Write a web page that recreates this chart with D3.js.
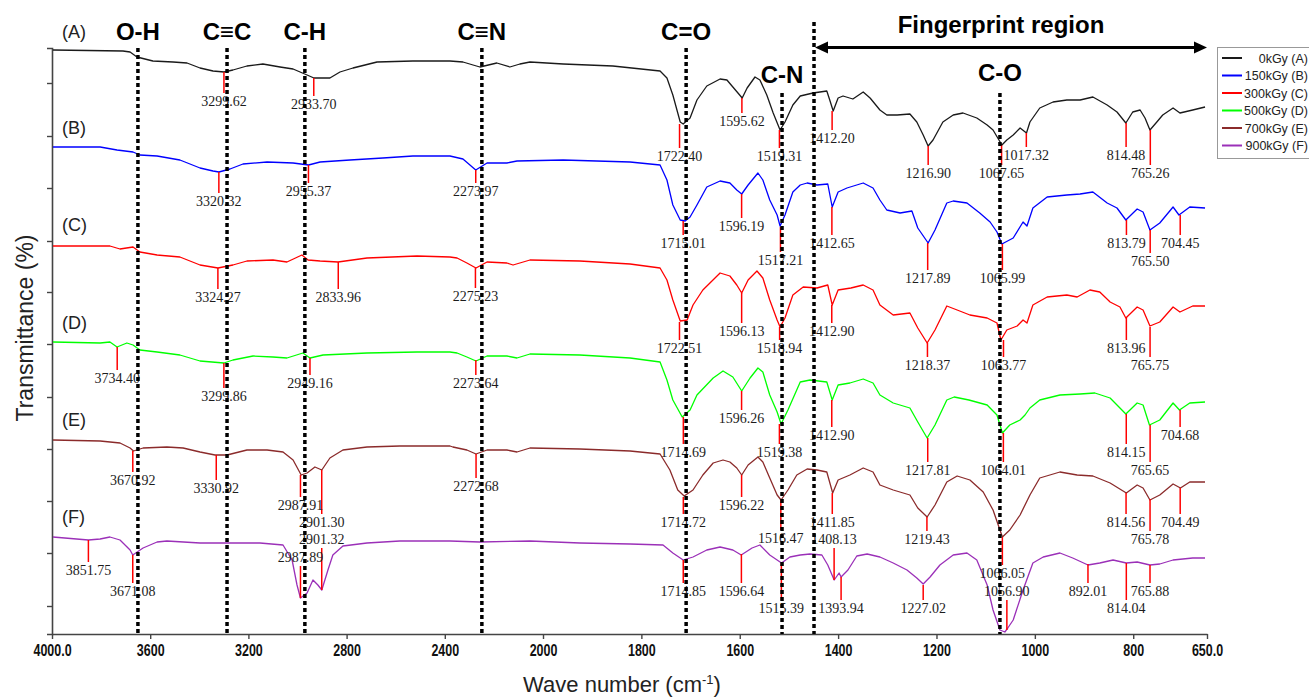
<!DOCTYPE html>
<html><head><meta charset="utf-8">
<script src="https://cdn.jsdelivr.net/npm/d3@7"></script>
<style>
html,body{margin:0;padding:0;background:#fff;}
svg{display:block;}
</style></head>
<body>
<svg id="chart" width="1309" height="699"></svg>
<script>
// ---------------- DATA ----------------
const xTicks = [4000,3600,3200,2800,2400,2000,1800,1600,1400,1200,1000,800,650];
const xTickLabels = ["4000.0","3600","3200","2800","2400","2000","1800","1600","1400","1200","1000","800","650.0"];
const yTicks = [28,81,133,185,237,290,342,393,446,498,551];

const seriesNames = ["0kGy (A)","150kGy (B)","300kGy (C)","500kGy (D)","700kGy (E)","900kGy (F)"];
const seriesLetters = ["(A)","(B)","(C)","(D)","(E)","(F)"];

// spectra: [wavenumber (cm-1), transmittance (a.u., offset per sample)]
const specA = [[3996,584],[3711,583],[3682,582],[3654,577],[3589,573],[3507,572],[3450,571],[3397,566],[3344,563],[3299,562],[3263,564],[3206,568],[3141,570],[3071,567],[3018,565],[2961,559],[2933,556],[2868,556],[2827,562],[2774,566],[2676,572],[2530,573],[2379,573],[2326,572],[2285,569],[2257,567],[2188,571],[2135,567],[2094,570],[2053,572],[1959,570],[1858,568],[1762,563],[1748,556],[1736,539],[1721,512],[1715,510],[1701,516],[1687,534],[1667,548],[1640,555],[1626,554],[1614,547],[1595,536],[1585,546],[1569,557],[1559,554],[1545,539],[1532,521],[1518,504],[1508,512],[1492,529],[1477,538],[1451,541],[1423,543],[1417,534],[1410,523],[1400,536],[1390,538],[1370,535],[1349,542],[1335,536],[1315,524],[1301,519],[1280,519],[1254,520],[1240,512],[1227,499],[1217,488],[1207,494],[1187,512],[1166,519],[1146,521],[1118,516],[1097,509],[1085,504],[1067,489],[1057,494],[1044,499],[1030,506],[1017,501],[1010,512],[990,526],[963,532],[935,534],[908,534],[882,537],[853,529],[833,522],[815,511],[801,522],[786,524],[776,516],[766,504],[752,512],[740,519],[719,526],[705,521],[679,524],[654,527]];
const specB = [[3996,487],[3804,487],[3735,484],[3670,482],[3642,479],[3572,478],[3479,474],[3397,466],[3344,463],[3320,462],[3275,465],[3222,470],[3124,472],[3018,471],[2955,469],[2908,472],[2786,474],[2652,476],[2530,478],[2379,478],[2326,475],[2274,464],[2228,471],[2147,471],[2106,473],[1959,474],[1823,472],[1762,469],[1748,454],[1736,429],[1721,414],[1711,413],[1701,417],[1687,429],[1667,447],[1640,453],[1620,451],[1606,444],[1596,440],[1583,449],[1563,461],[1553,454],[1539,434],[1524,419],[1518,408],[1508,419],[1492,442],[1477,449],[1463,451],[1443,449],[1421,450],[1412,427],[1400,442],[1382,446],[1349,451],[1329,446],[1315,434],[1301,424],[1274,421],[1250,423],[1238,406],[1217,391],[1203,404],[1179,431],[1166,433],[1138,431],[1112,421],[1091,412],[1077,402],[1067,390],[1044,396],[1024,412],[1016,408],[1004,426],[975,437],[935,439],[908,440],[882,442],[853,431],[833,426],[815,414],[792,425],[780,422],[766,404],[746,411],[719,427],[707,419],[685,427],[654,426]];
const specC = [[3996,388],[3764,388],[3723,385],[3670,387],[3642,382],[3572,379],[3479,377],[3397,369],[3324,366],[3263,369],[3206,373],[3100,374],[3043,372],[2982,379],[2957,374],[2908,373],[2835,372],[2717,376],[2513,378],[2379,377],[2350,376],[2310,371],[2273,366],[2228,372],[2147,371],[2122,369],[2053,374],[1925,373],[1823,370],[1762,366],[1748,354],[1736,334],[1721,313],[1707,314],[1695,329],[1675,344],[1640,361],[1620,358],[1606,349],[1596,341],[1583,354],[1565,363],[1553,356],[1539,334],[1524,314],[1518,307],[1508,316],[1492,339],[1471,347],[1443,346],[1421,349],[1412,329],[1400,344],[1374,346],[1349,349],[1329,344],[1315,329],[1288,319],[1254,321],[1238,306],[1219,291],[1203,304],[1179,328],[1158,324],[1132,319],[1097,316],[1077,311],[1069,294],[1057,304],[1036,308],[1024,314],[1016,311],[1004,329],[975,337],[935,339],[914,337],[888,344],[868,342],[847,332],[827,327],[815,316],[792,327],[780,324],[766,308],[746,312],[719,327],[705,322],[679,328],[654,328]];
const specD = [[3996,292],[3804,291],[3764,292],[3735,287],[3695,291],[3670,289],[3642,284],[3572,282],[3479,279],[3397,273],[3300,271],[3263,274],[3181,278],[3100,277],[3043,276],[2978,281],[2949,276],[2896,279],[2717,281],[2513,282],[2379,282],[2350,281],[2310,277],[2273,273],[2228,278],[2147,278],[2106,276],[2053,280],[1925,279],[1823,276],[1762,272],[1748,254],[1736,234],[1717,217],[1701,224],[1687,239],[1654,256],[1634,263],[1614,257],[1596,243],[1579,256],[1563,266],[1553,262],[1539,239],[1524,222],[1516,210],[1502,224],[1477,252],[1457,254],[1423,252],[1412,234],[1400,249],[1376,251],[1349,255],[1329,251],[1315,239],[1288,231],[1254,226],[1238,212],[1219,196],[1203,209],[1179,234],[1164,237],[1134,234],[1097,229],[1077,219],[1066,201],[1051,209],[1030,214],[1020,219],[1010,226],[990,234],[949,239],[908,240],[878,241],[847,236],[815,220],[792,231],[780,229],[767,209],[746,214],[719,231],[706,224],[685,231],[654,232]];
const specE = [[3996,194],[3804,193],[3723,191],[3682,186],[3668,183],[3629,186],[3532,187],[3466,186],[3397,182],[3336,179],[3287,179],[3206,184],[3124,184],[3059,182],[3018,174],[2985,159],[2961,161],[2929,167],[2901,164],[2868,176],[2815,184],[2717,187],[2583,188],[2379,188],[2367,187],[2310,184],[2273,180],[2228,184],[2147,184],[2106,182],[2053,186],[1925,185],[1823,183],[1762,180],[1742,164],[1726,144],[1713,138],[1695,144],[1675,159],[1654,171],[1634,174],[1620,172],[1606,166],[1596,159],[1583,169],[1563,177],[1553,172],[1539,156],[1524,139],[1516,134],[1502,144],[1484,159],[1463,165],[1443,164],[1423,162],[1411,141],[1400,154],[1376,159],[1349,166],[1329,162],[1315,149],[1288,144],[1254,139],[1238,126],[1219,117],[1203,129],[1179,152],[1158,158],[1132,154],[1105,142],[1085,124],[1066,97],[1051,104],[1030,119],[1010,139],[990,156],[949,162],[914,159],[882,158],[847,151],[814,141],[792,149],[780,146],[766,134],[746,139],[719,150],[704,146],[685,152],[654,152]];
const specF = [[3996,97],[3852,94],[3804,95],[3764,97],[3723,94],[3682,84],[3671,79],[3629,86],[3572,92],[3532,93],[3397,91],[3153,91],[3059,89],[3022,74],[3002,49],[2988,36],[2961,41],[2937,54],[2917,49],[2901,44],[2876,64],[2856,79],[2815,88],[2717,91],[2583,93],[2379,93],[2257,92],[2053,93],[1925,91],[1823,90],[1756,89],[1736,81],[1715,74],[1695,77],[1667,84],[1640,87],[1614,84],[1597,79],[1575,86],[1559,89],[1539,79],[1515,71],[1498,77],[1477,79],[1457,80],[1433,79],[1421,69],[1408,54],[1398,61],[1394,57],[1380,64],[1362,78],[1341,80],[1315,77],[1288,71],[1260,64],[1240,56],[1227,50],[1213,57],[1193,69],[1166,79],[1138,81],[1118,74],[1097,49],[1085,24],[1071,4],[1061,2],[1055,6],[1044,14],[1024,44],[1004,71],[983,77],[949,81],[923,76],[892,69],[868,71],[841,74],[814,71],[792,72],[766,69],[746,70],[719,74],[679,76],[654,76]];
const spectra = [specA, specB, specC, specD, specE, specF];

// peak annotations: [wavenumber, transmittance at peak, end of marker line] (a.u.)
const peaksA = [[3299.62,562,541],[2933.70,556,538],[1722.40,510,486],[1595.62,536,521],[1519.31,504,486],[1412.20,523,504],[1216.90,488,469],[1067.65,489,469],[1017.32,501,487],[814.48,511,487],[765.26,504,469]];
const peaksB = [[3320.32,462,441],[2955.37,469,451],[2273.97,464,451],[1715.01,413,399],[1596.19,440,416],[1517.21,407,382],[1412.65,427,399],[1217.89,391,364],[1065.99,390,364],[813.79,414,399],[765.50,404,381],[704.45,419,399]];
const peaksC = [[3324.27,366,345],[2833.96,372,345],[2275.23,366,346],[1722.51,312,294],[1596.13,341,311],[1518.94,307,294],[1412.90,329,311],[1218.37,291,277],[1063.77,294,277],[813.96,317,294],[765.75,307,277]];
const peaksD = [[3734.40,287,264],[3299.86,271,246],[2949.16,276,259],[2273.64,274,259],[1714.69,217,190],[1596.26,243,224],[1519.38,210,190],[1412.90,234,207],[1217.81,196,172],[1064.01,201,172],[814.15,220,190],[765.65,209,172],[704.68,224,207]];
const peaksE = [[3670.92,183,162],[3330.92,179,154],[2987.91,159,137],[2901.30,164,120],[2272.68,180,156],[1714.72,137,120],[1596.22,159,137],[1516.47,134,104],[1411.85,141,120],[1219.43,117,103],[1066.05,97,69],[814.56,141,120],[765.78,135,103],[704.49,146,120]];
const peaksF = [[3851.75,94,72],[3671.08,79,51],[2987.89,36,68],[2901.32,44,86],[1714.85,74,51],[1596.64,80,51],[1515.39,71,34],[1408.13,54,86],[1393.94,57,34],[1227.02,49,34],[1056.90,4,34],[892.01,70,51],[814.04,71,34],[765.88,69,51]];
const peaks = [peaksA, peaksB, peaksC, peaksD, peaksE, peaksF];

// functional group guide lines
const groupLabels = ["O-H","C\u2261C","C-H","C\u2261N","C=O","C-N","C-O"];
const groupWavenumbers = [3650,3287,2970,2249,1709,1514,1071];
const fingerprintLabel = "Fingerprint region";
const fingerprintStart = 1449;

// ---------------- STYLE / LAYOUT ----------------
const colors = ["#1a1a1a","#0000ff","#ff0000","#00ff00","#8b2b2b","#9b30b8"];
const W = 1309, H = 699;
const plot = {left:52, right:1207, top:48, bottom:634, xBreakPx:543};
const groupLineTop = [586,586,586,586,586,541,541];      // a.u.
const groupLabelY = [40,40,40,40,40,83,81];              // px baselines
const letterY = [38,134,231,329,426,523];

const svg = d3.select("#chart");
svg.append("rect").attr("width",W).attr("height",H).attr("fill","#fff");

const x = d3.scaleLinear().domain([4000,2000,650]).range([plot.left, plot.xBreakPx, plot.right]);
const y = d3.scaleLinear().domain([0,586]).range([plot.bottom, plot.top]);

// axes
const xAxis = d3.axisBottom(x).tickValues(xTicks).tickFormat((d,i)=>xTickLabels[i]).tickSize(5).tickSizeOuter(0);
const gx = svg.append("g").attr("transform",`translate(0,${plot.bottom})`).call(xAxis);
gx.select(".domain").attr("stroke","#444").attr("stroke-width",1.6);
gx.selectAll(".tick line").attr("stroke","#444").attr("stroke-width",1.4);
gx.selectAll(".tick text").attr("fill","#111").attr("y",11).attr("dy","0.71em")
  .attr("transform","scale(0.78,1)")
  .style("font-family","'Liberation Sans',Arial,sans-serif")
  .style("font-size","16px").style("font-weight","bold");

const yAxis = d3.axisLeft(y).tickValues(yTicks).tickFormat("").tickSize(5).tickSizeOuter(5);
const gy = svg.append("g").attr("transform",`translate(${plot.left},0)`).call(yAxis);
gy.select(".domain").attr("stroke","#444").attr("stroke-width",1.6);
gy.selectAll(".tick line").attr("stroke","#444").attr("stroke-width",1.4);

// spectra
const line = d3.line().x(d=>x(d[0])).y(d=>y(d[1]));
spectra.forEach((s,i)=>{
  svg.append("path").datum(s).attr("d",line).attr("fill","none")
    .attr("stroke",colors[i]).attr("stroke-width",1.3).attr("stroke-linejoin","round");
});

// peak markers and labels
peaks.forEach((ps)=>{
  const g = svg.append("g");
  g.selectAll("line").data(ps).join("line")
    .attr("x1",d=>x(d[0])).attr("x2",d=>x(d[0]))
    .attr("y1",d=>y(d[1])).attr("y2",d=>y(d[2]))
    .attr("stroke","#ff0000").attr("stroke-width",1.5);
  g.selectAll("text").data(ps).join("text")
    .attr("x",d=>x(d[0]))
    .attr("y",d=> d[2] < d[1] ? y(d[2]) + 13 : y(d[2]) - 4)
    .attr("text-anchor","middle")
    .style("font-family","'Liberation Serif','Times New Roman',serif")
    .style("font-size","14px").attr("fill","#1c1c1c")
    .text(d=>d[0].toFixed(2));
});

// series letters
seriesLetters.forEach((t,i)=>{
  svg.append("text").attr("x",62).attr("y",letterY[i]).text(t)
    .style("font-family","'Liberation Sans',Arial,sans-serif").style("font-size","18px").attr("fill","#222");
});

// dotted guide lines (on top)
groupWavenumbers.forEach((w,i)=>{
  svg.append("line").attr("x1",x(w)).attr("x2",x(w))
    .attr("y1",y(groupLineTop[i])).attr("y2",plot.bottom)
    .attr("stroke","#000").attr("stroke-width",3.5).attr("stroke-dasharray","4,3");
  svg.append("text").attr("x",x(w)).attr("y",groupLabelY[i]).attr("text-anchor","middle")
    .style("font-family","'Liberation Sans',Arial,sans-serif").style("font-size","24px").style("font-weight","bold")
    .attr("fill","#000").text(groupLabels[i]);
});
svg.append("line").attr("x1",x(fingerprintStart)).attr("x2",x(fingerprintStart))
  .attr("y1",22).attr("y2",plot.bottom)
  .attr("stroke","#000").attr("stroke-width",3.5).attr("stroke-dasharray","4,3");

// fingerprint arrow
const ay = 47.5, ax1 = x(fingerprintStart)+1, ax2 = x(650);
svg.append("line").attr("x1",ax1+10).attr("x2",ax2-10).attr("y1",ay).attr("y2",ay).attr("stroke","#000").attr("stroke-width",3);
svg.append("path").attr("d",`M${ax1},${ay} L${ax1+13},${ay-6} L${ax1+13},${ay+6} Z`).attr("fill","#000");
svg.append("path").attr("d",`M${ax2},${ay} L${ax2-13},${ay-6} L${ax2-13},${ay+6} Z`).attr("fill","#000");
svg.append("text").attr("x",1001).attr("y",33).attr("text-anchor","middle")
  .style("font-family","'Liberation Sans',Arial,sans-serif").style("font-size","24px").style("font-weight","bold")
  .text(fingerprintLabel);

// legend
const lg = svg.append("g");
lg.append("rect").attr("x",1217.5).attr("y",47.5).attr("width",100).attr("height",111)
  .attr("fill","#fff").attr("stroke","#999").attr("stroke-width",1);
seriesNames.forEach((n,i)=>{
  const ry = 58 + i*17.5;
  lg.append("line").attr("x1",1222).attr("x2",1242).attr("y1",ry).attr("y2",ry)
    .attr("stroke",colors[i]).attr("stroke-width",2);
  lg.append("text").attr("x",1308).attr("y",ry+4.5).attr("text-anchor","end")
    .style("font-family","'Liberation Sans',Arial,sans-serif").style("font-size","12.5px").attr("fill","#222").text(n);
});

// axis titles
svg.append("text").attr("transform","translate(33,328) rotate(-90)").attr("text-anchor","middle")
  .style("font-family","'Liberation Sans',Arial,sans-serif").style("font-size","23px").attr("fill","#222")
  .text("Transmittance (%)");
const xt = svg.append("text").attr("x",622).attr("y",692).attr("text-anchor","middle")
  .style("font-family","'Liberation Sans',Arial,sans-serif").style("font-size","22px").attr("fill","#222");
xt.append("tspan").text("Wave number (cm");
xt.append("tspan").attr("dy",-8).style("font-size","13px").text("-1");
xt.append("tspan").attr("dy",8).text(")");
</script>
</body></html>
